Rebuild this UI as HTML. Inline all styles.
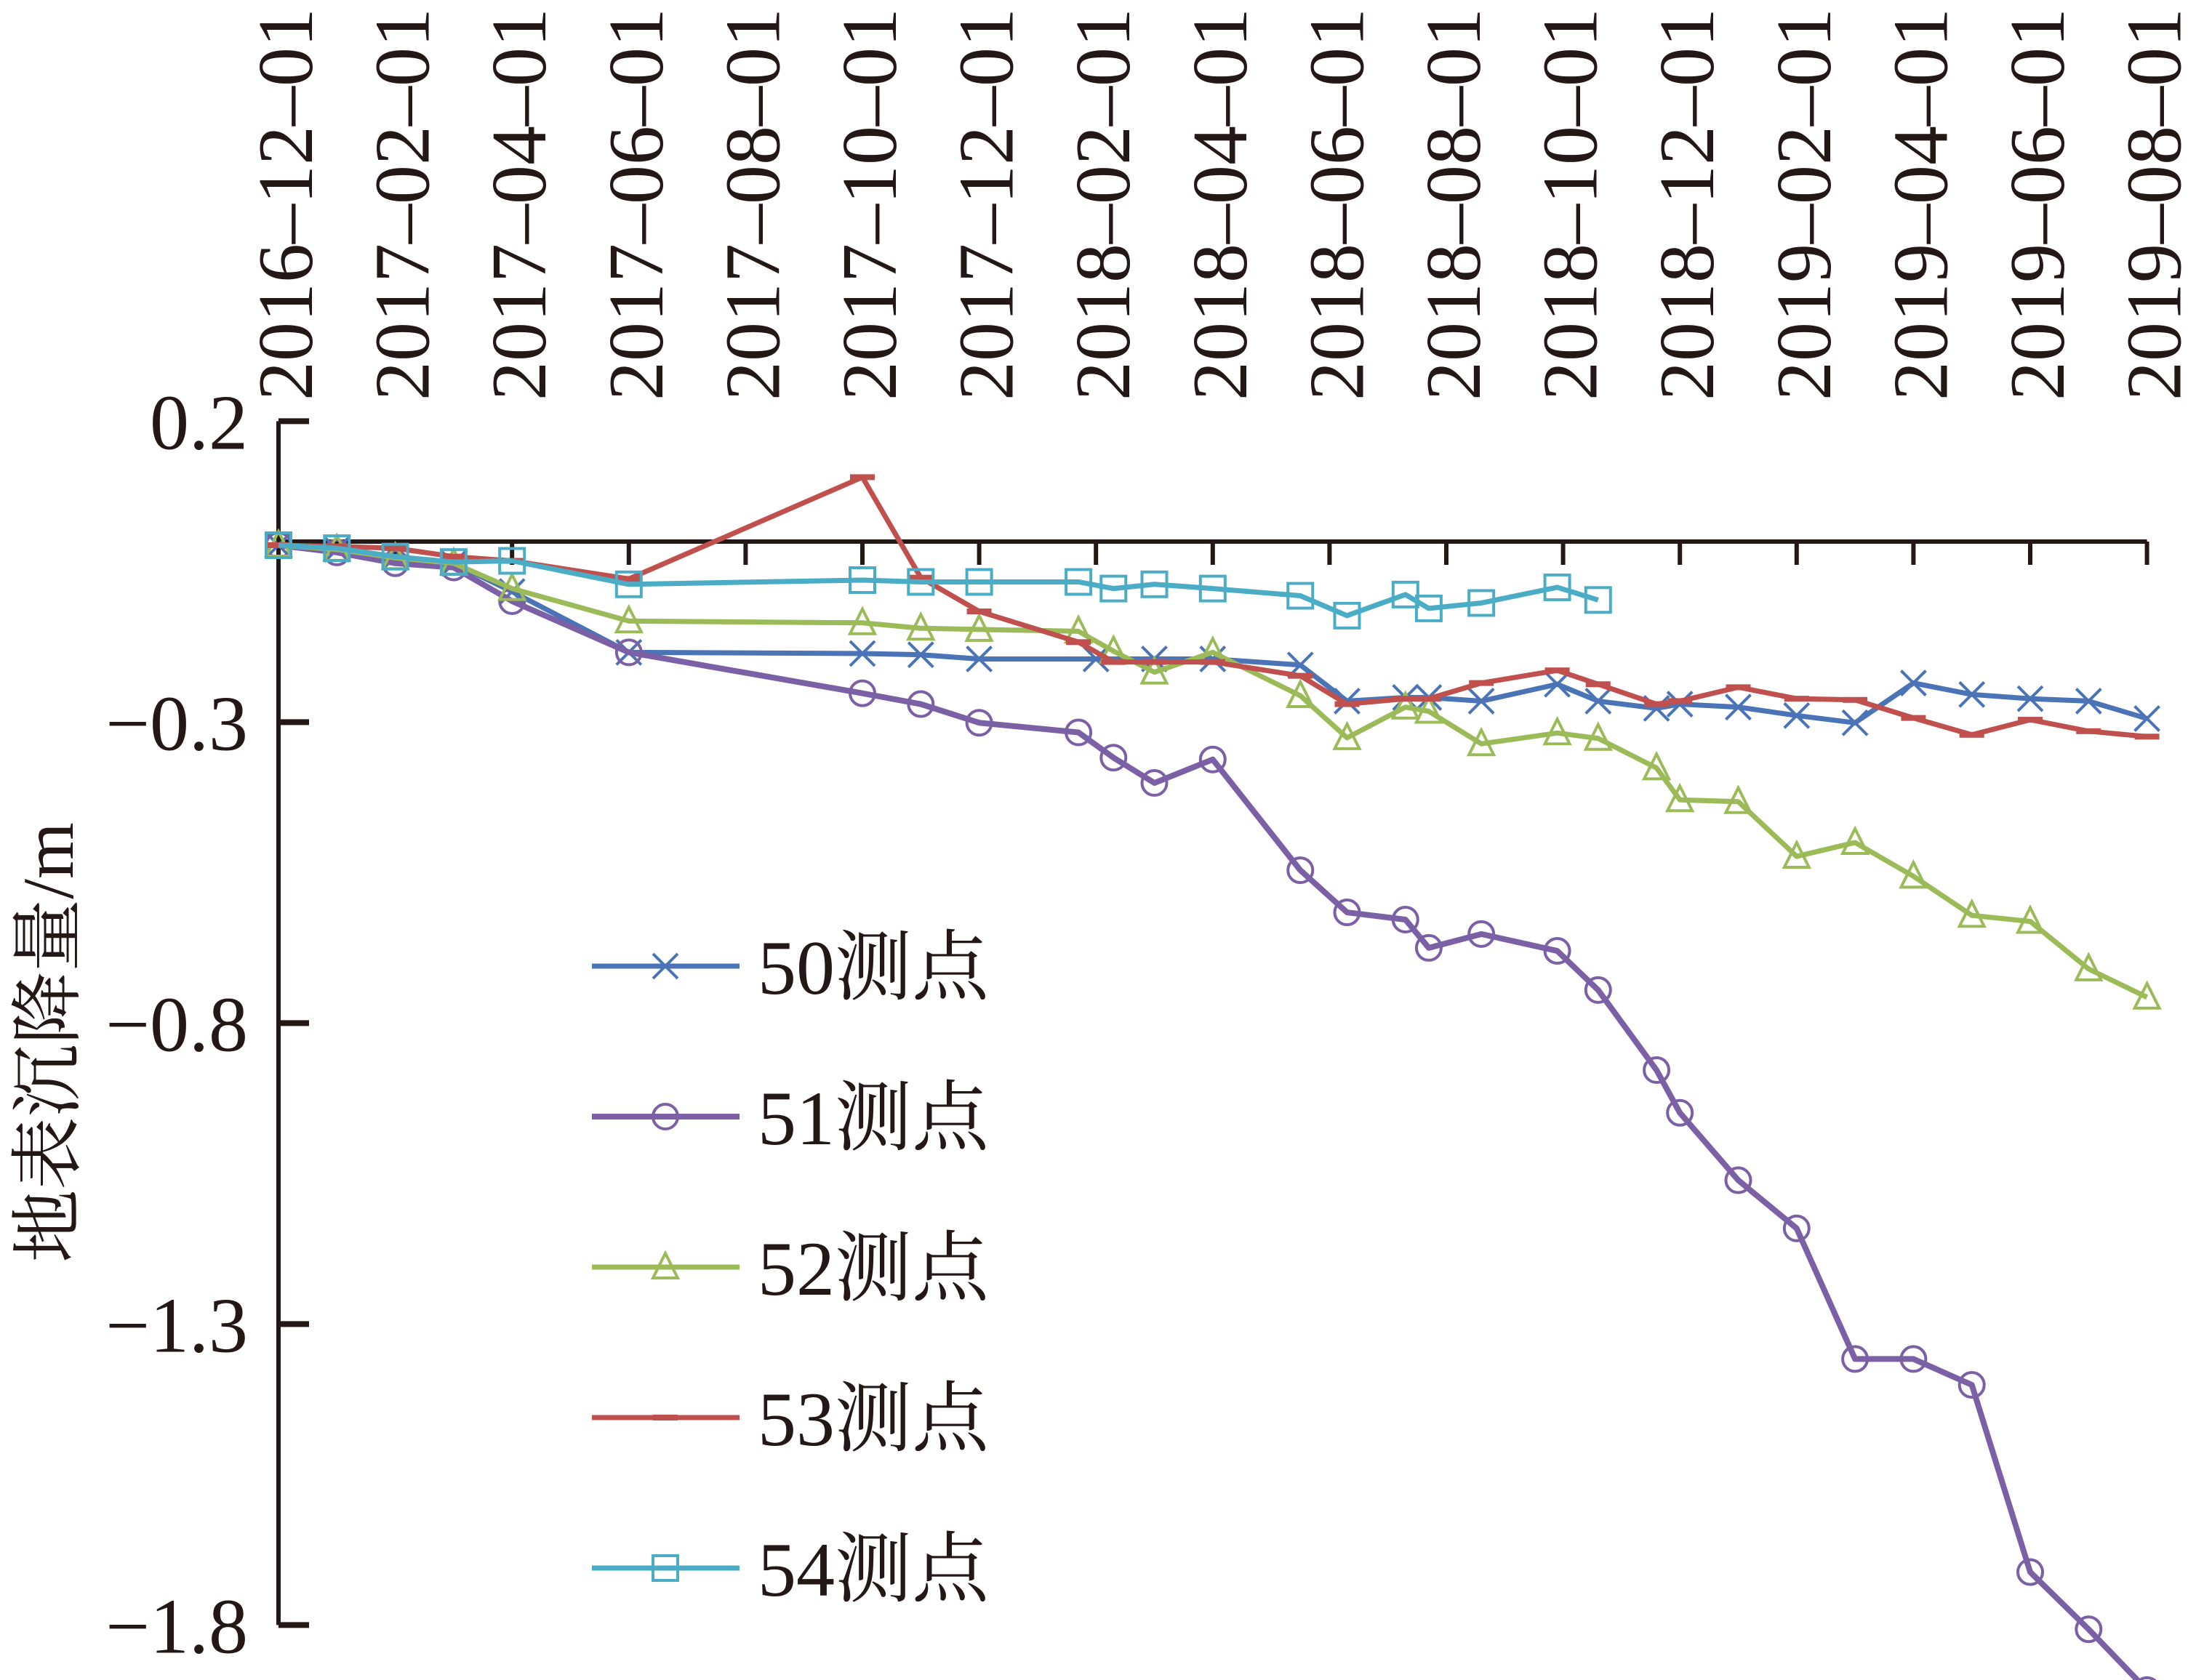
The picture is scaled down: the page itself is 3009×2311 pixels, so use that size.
<!DOCTYPE html>
<html><head><meta charset="utf-8"><style>
html,body{margin:0;padding:0;background:#fff}
svg{display:block}
text{font-family:"Liberation Serif","Noto Serif CJK SC",serif;fill:#231815}
</style></head><body>
<svg id="chart" width="3009" height="2311" viewBox="0 0 3009 2311" xmlns="http://www.w3.org/2000/svg">
<g id="axes"></g>
<g id="series"></g>
<g id="legend"></g>
<text transform="translate(100,1434) rotate(-90)" text-anchor="middle" font-size="100" style="font-family:'Liberation Serif','Noto Serif CJK SC',serif">地表沉降量/m</text>
</svg>
<script>
// x tick labels (every 2 months from 2016-12-01)
const xTickLabels = ["2016–12–01","2017–02–01","2017–04–01","2017–06–01","2017–08–01","2017–10–01","2017–12–01","2018–02–01","2018–04–01","2018–06–01","2018–08–01","2018–10–01","2018–12–01","2019–02–01","2019–04–01","2019–06–01","2019–08–01"];
const yTicks = [0.2,-0.3,-0.8,-1.3,-1.8];
const yTickLabels = ["0.2","−0.3","−0.8","−1.3","−1.8"];
// measurement times, months since 2016-12-01
const monthsA = [0,1,2,3,4,6,10,11,12,14,15,16,17.5,18.3,19.3,19.7,20.6,21.9,22.6,23.6,24,25,26,27,28,29,30,31,32];
const monthsB = [0,1,2,3,4,6,10,11,12,13.7,14.3,15,16,17.5,18.3,19.3,19.7,20.6,21.9,22.6,23.6,24,25,26,27,28,29,30,31,32];
const monthsC = [0,1,2,3,4,6,10,11,12,13.7,14.3,15,16,17.5,18.3,19.3,19.7,20.6,21.9,22.6];
const s50 = [-0.006,-0.013,-0.025,-0.036,-0.083,-0.184,-0.186,-0.188,-0.195,-0.195,-0.195,-0.195,-0.205,-0.265,-0.259,-0.259,-0.265,-0.237,-0.265,-0.277,-0.27,-0.275,-0.289,-0.301,-0.235,-0.254,-0.261,-0.265,-0.294];
const s51 = [-0.006,-0.018,-0.036,-0.043,-0.099,-0.184,-0.252,-0.27,-0.301,-0.317,-0.359,-0.401,-0.362,-0.546,-0.616,-0.628,-0.675,-0.652,-0.68,-0.745,-0.878,-0.949,-1.061,-1.141,-1.358,-1.358,-1.401,-1.712,-1.807,-1.908];
const s52 = [-0.006,-0.013,-0.027,-0.036,-0.078,-0.132,-0.135,-0.144,-0.146,-0.149,-0.182,-0.217,-0.184,-0.256,-0.326,-0.275,-0.282,-0.336,-0.318,-0.327,-0.376,-0.429,-0.432,-0.523,-0.5,-0.556,-0.621,-0.631,-0.71,-0.757];
const s53 = [-0.006,-0.008,-0.011,-0.025,-0.032,-0.062,0.107,-0.06,-0.116,-0.167,-0.2,-0.2,-0.2,-0.223,-0.27,-0.261,-0.261,-0.235,-0.214,-0.237,-0.27,-0.265,-0.242,-0.261,-0.263,-0.293,-0.321,-0.296,-0.315,-0.324];
const s54 = [-0.006,-0.011,-0.025,-0.034,-0.032,-0.071,-0.064,-0.067,-0.067,-0.067,-0.078,-0.071,-0.078,-0.09,-0.123,-0.088,-0.111,-0.102,-0.076,-0.097];
const seriesNames = ["50测点","51测点","52测点","53测点","54测点"];

const NS="http://www.w3.org/2000/svg";
const X0=383, PXM=80.3, Y0=745, PXU=828;
function xs(m){return X0+m*PXM;}
function ys(v){return Y0-v*PXU;}
function mk(tag,attrs,parent){const e=document.createElementNS(NS,tag);for(const k in attrs)e.setAttribute(k,attrs[k]);parent.appendChild(e);return e;}

const axes=document.getElementById('axes');
// y axis
const ya=mk('line',{x1:X0,y1:ys(0.2),x2:X0,y2:ys(-1.8),stroke:'#231815','stroke-width':6},axes);


yTicks.forEach((v,i)=>{
  const t=mk('line',{x1:X0,y1:ys(v),x2:X0+42,y2:ys(v),stroke:'#231815','stroke-width':8},axes);
  
  
  const l=mk('text',{x:X0-42,y:ys(v)+38,'text-anchor':'end','font-size':108},axes);
  l.textContent=yTickLabels[i];
  
  
});
// x axis at 0
const xa=mk('line',{x1:X0,y1:Y0,x2:xs(32),y2:Y0,stroke:'#231815','stroke-width':6},axes);


xTickLabels.forEach((lab,i)=>{
  const x=xs(i*2);
  const t=mk('line',{x1:x,y1:Y0,x2:x,y2:Y0+32,stroke:'#231815','stroke-width':6},axes);
  
  
  const l=mk('text',{transform:`translate(${x+46},551) rotate(-90)`,'text-anchor':'start','font-size':108},axes);
  l.textContent=lab;
  
  
});

const colors=["#4a74b5","#7b60a6","#9bbb59","#c0504d","#4bacc6"];
const widths=[7,8,7,7,7];
const data=[[monthsA,s50],[monthsB,s51],[monthsB,s52],[monthsB,s53],[monthsC,s54]];
const markers=["x","o","tri","dash","sq"];
function marker(type,x,y,c,parent){
  const sw=4,r=17;
  if(type==="x"){const g=mk('path',{d:`M${x-r} ${y-r}L${x+r} ${y+r}M${x-r} ${y+r}L${x+r} ${y-r}`,stroke:c,'stroke-width':sw,fill:'none'},parent);return g;}
  if(type==="o"){return mk('circle',{cx:x,cy:y,r:r,stroke:c,'stroke-width':sw,fill:'none'},parent);}
  if(type==="tri"){return mk('path',{d:`M${x} ${y-r-2}L${x+r} ${y+r-2}L${x-r} ${y+r-2}Z`,stroke:c,'stroke-width':sw,fill:'none'},parent);}
  if(type==="dash"){return mk('rect',{x:x-r,y:y-4,width:2*r,height:8,fill:c},parent);}
  return mk('rect',{x:x-r,y:y-r,width:2*r,height:2*r,stroke:c,'stroke-width':sw,fill:'none'},parent);
}
const sg=document.getElementById('series');
data.forEach(([ms,vs],si)=>{
  const g=mk('g',{},sg);
  
  
  const pts=vs.map((v,i)=>xs(ms[i])+','+ys(v)).join(' ');
  const pl=mk('polyline',{points:pts,fill:'none',stroke:colors[si],'stroke-width':widths[si],'stroke-linejoin':'round'},g);
  
  
  vs.forEach((v,i)=>{
    const m=marker(markers[si],xs(ms[i]),ys(v),colors[si],g);
    
    
  });
});
const lg=document.getElementById('legend');
seriesNames.forEach((n,i)=>{
  const y=1329+i*207;
  const g=mk('g',{},lg);
  
  
  mk('line',{x1:814,y1:y,x2:1017,y2:y,stroke:colors[i],'stroke-width':widths[i]},g);
  marker(markers[i],915,y,colors[i],g);
  const t=mk('text',{x:1042,y:y+38,'font-size':106},g);
  t.textContent=n;
});
</script>
</body></html>
